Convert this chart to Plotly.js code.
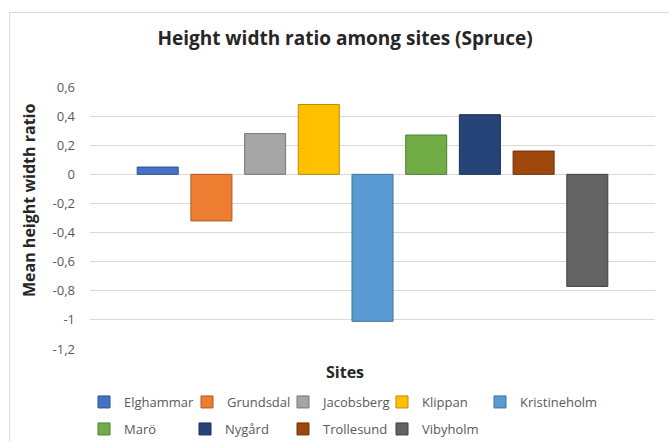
<!DOCTYPE html>
<html>
<head>
<meta charset="utf-8">
<script src="https://cdn.plot.ly/plotly-3.0.1.min.js"></script>
<style>
  html, body { margin: 0; padding: 0; background: #ffffff; }
  #chart { width: 669px; height: 441px; }
</style>
</head>
<body>
<div id="chart"></div>
<script>
// Mean height/width ratio per site (Spruce)
const sites = ['Elghammar', 'Grundsdal', 'Jacobsberg', 'Klippan', 'Kristineholm',
               'Marö', 'Nygård', 'Trollesund', 'Vibyholm'];
const ratios = [0.05, -0.32, 0.28, 0.48, -1.01, 0.27, 0.41, 0.16, -0.77];
const category = ['Sites'];

// y axis ticks (comma decimal separator, plain hyphen minus)
const yTickVals = [0.6, 0.4, 0.2, 0, -0.2, -0.4, -0.6, -0.8, -1, -1.2];
const yTickText = ['0,6', '0,4', '0,2', '0', '-0,2', '-0,4', '-0,6', '-0,8', '-1', '-1,2'];

// Office palette fills and slightly darker outlines
const fills = ['#4472C4', '#ED7D31', '#A5A5A5', '#FFC000', '#5B9BD5',
               '#70AD47', '#264478', '#9E480E', '#636363'];
const outlines = ['#2F528F', '#AE5A21', '#787878', '#BC8C00', '#41719C',
                  '#507E32', '#1B3158', '#6F320A', '#404040'];

const FONT = 'Open Sans, Noto Sans, sans-serif';

const W = 669, H = 441;
const M = { l: 90, r: 14, t: 87, b: 92 };
const plotW = W - M.l - M.r, plotH = H - M.t - M.b;
// convert absolute pixel positions into paper coordinates
const px = v => (v - M.l) / plotW;
const py = v => (H - M.b - v) / plotH;

// legend grid: 5 entries on the first row, 4 on the second
const legendLeft = [84, 187, 283, 382, 480, 84, 185, 283, 382];
const legendRowY = [402, 402, 402, 402, 402, 429, 429, 429, 429];
const legendId = i => (i === 0 ? 'legend' : 'legend' + (i + 1));

const traces = sites.map((name, i) => ({
  type: 'bar',
  name: name,
  x: category,
  y: [ratios[i]],
  marker: { color: fills[i], line: { color: outlines[i], width: 1 } },
  legend: legendId(i),
  hoverinfo: 'name+y'
}));

const layout = {
  width: W, height: H,
  margin: M,
  paper_bgcolor: '#ffffff',
  plot_bgcolor: '#ffffff',
  title: {
    text: '<b>Height width ratio among sites (Spruce)</b>',
    font: { family: FONT, size: 19, color: '#262626' },
    xref: 'container', yref: 'container',
    x: 345 / W, xanchor: 'center',
    y: 1 - 38 / H, yanchor: 'middle'
  },
  barmode: 'group',
  bargap: 0.1446,
  bargroupgap: 0.236,
  xaxis: {
    type: 'category',
    showticklabels: false, showgrid: false, zeroline: false,
    showline: false, ticks: '', fixedrange: true
  },
  yaxis: {
    range: [-1.2, 0.6],
    tickvals: yTickVals, ticktext: yTickText,
    showgrid: true, gridcolor: '#d9d9d9', gridwidth: 1,
    zeroline: true, zerolinecolor: '#d9d9d9', zerolinewidth: 1,
    showline: false, ticks: '',
    ticklabelstandoff: 14,
    tickfont: { family: FONT, size: 13, color: '#595959' },
    fixedrange: true
  },
  showlegend: true,
  annotations: [
    {
      text: '<b>Mean height width ratio</b>',
      xref: 'paper', yref: 'paper',
      x: px(29), y: py(201),
      textangle: -90, showarrow: false,
      xanchor: 'center', yanchor: 'middle',
      font: { family: FONT, size: 16, color: '#262626' }
    },
    {
      text: '<b>Sites</b>',
      xref: 'paper', yref: 'paper',
      x: px(344.5), y: py(372),
      showarrow: false,
      xanchor: 'center', yanchor: 'middle',
      font: { family: FONT, size: 16, color: '#262626' }
    }
  ],
  shapes: [
    // chart-area frame (left and top edges fall inside the view)
    {
      type: 'rect', xref: 'paper', yref: 'paper', layer: 'below',
      x0: px(9.5), x1: px(W + 20), y0: py(H + 20), y1: py(12.5),
      line: { color: '#d9d9d9', width: 1 }, fillcolor: 'rgba(0,0,0,0)'
    }
  ]
};

// one single-entry legend per site so each sits in its own column
sites.forEach((_, i) => {
  layout[legendId(i)] = {
    orientation: 'h',
    xref: 'container', yref: 'container',
    xanchor: 'left', yanchor: 'middle',
    x: legendLeft[i] / W, y: 1 - legendRowY[i] / H,
    font: { family: FONT, size: 13, color: '#595959' },
    bgcolor: 'rgba(0,0,0,0)',
    itemwidth: 30
  };
});

Plotly.newPlot('chart', traces, layout, { displayModeBar: false });
</script>
</body>
</html>
